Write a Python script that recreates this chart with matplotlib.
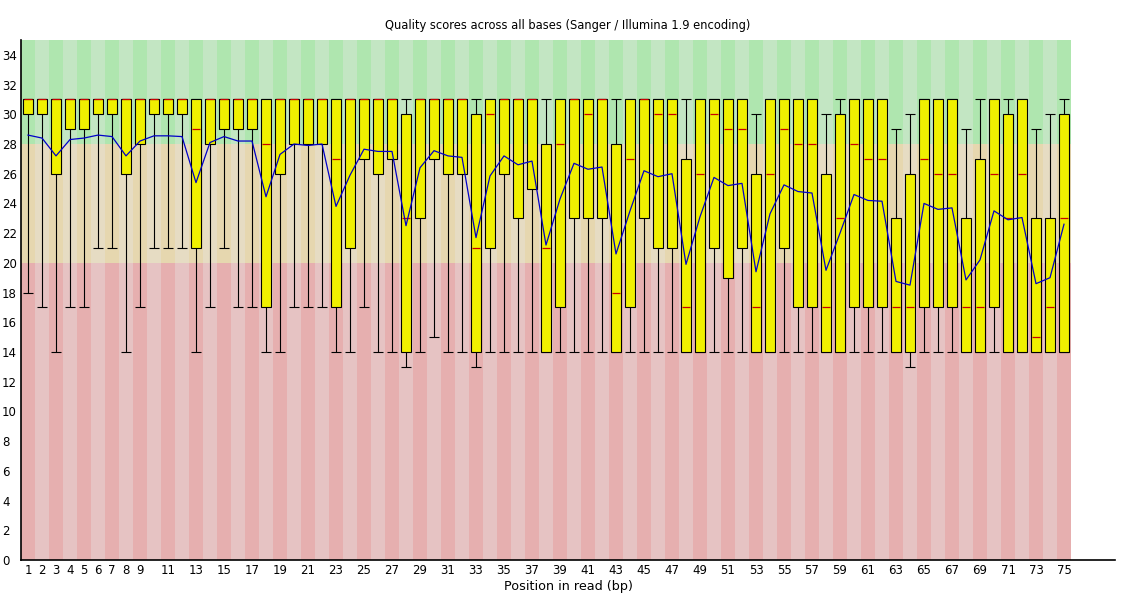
import matplotlib
matplotlib.use("Agg")
import matplotlib.pyplot as plt

# per-base quality summary
positions = list(range(1, 76))
upper = [31, 31, 31, 31, 31, 31, 31, 31, 31, 31, 31, 31, 31, 31, 31, 31, 31, 31, 31, 31,
         31, 31, 31, 31, 31, 31, 31, 30, 31, 31, 31, 31, 30, 31, 31, 31, 31, 28, 31, 31,
         31, 31, 28, 31, 31, 31, 31, 27, 31, 31, 31, 31, 26, 31, 31, 31, 31, 26, 30, 31,
         31, 31, 23, 26, 31, 31, 31, 23, 27, 31, 30, 31, 23, 23, 30]
lower = [30, 30, 26, 29, 29, 30, 30, 26, 28, 30, 30, 30, 21, 28, 29, 29, 29, 17, 26, 28,
         28, 28, 17, 21, 27, 26, 27, 14, 23, 27, 26, 26, 14, 21, 26, 23, 25, 14, 17, 23,
         23, 23, 14, 17, 23, 21, 21, 14, 14, 21, 19, 21, 14, 14, 21, 17, 17, 14, 14, 17,
         17, 17, 14, 14, 17, 17, 17, 14, 14, 17, 14, 14, 14, 14, 14]
median = [31, 31, 31, 31, 31, 31, 31, 31, 31, 31, 31, 31, 29, 31, 31, 31, 31, 28, 31, 31,
          31, 31, 27, 31, 31, 31, 31, 23, 31, 31, 31, 31, 21, 30, 31, 31, 31, 21, 28, 31,
          30, 31, 18, 27, 31, 30, 30, 17, 26, 30, 29, 29, 17, 26, 29, 28, 28, 17, 23, 28,
          27, 27, 17, 17, 27, 26, 26, 17, 17, 26, 23, 26, 15, 17, 23]
low_whisker = [18, 17, 14, 17, 17, 21, 21, 14, 17, 21, 21, 21, 14, 17, 21, 17, 17, 14, 14, 17,
               17, 17, 14, 14, 17, 14, 14, 13, 14, 15, 14, 14, 13, 14, 14, 14, 14, 14, 14, 14,
               14, 14, 14, 14, 14, 14, 14, 14, 14, 14, 14, 14, 14, 14, 14, 14, 14, 14, 14, 14,
               14, 14, 14, 13, 14, 14, 14, 14, 14, 14, 14, 14, 14, 14, 14]
high_whisker = [31, 31, 31, 31, 31, 31, 31, 31, 31, 31, 31, 31, 31, 31, 31, 31, 31, 31, 31, 31,
                31, 31, 31, 31, 31, 31, 31, 31, 31, 31, 31, 31, 31, 31, 31, 31, 31, 31, 31, 31,
                31, 31, 31, 31, 31, 31, 31, 31, 31, 31, 31, 31, 30, 31, 31, 31, 31, 30, 31, 31,
                31, 31, 29, 30, 31, 31, 31, 29, 31, 31, 31, 31, 29, 30, 31]
mean = [28.6, 28.4, 27.2, 28.3, 28.4, 28.6, 28.5, 27.2, 28.2, 28.55,
        28.55, 28.5, 25.4, 28.1, 28.5, 28.2, 28.2, 24.45, 27.3, 28.0,
        27.9, 28.0, 23.8, 25.9, 27.65, 27.5, 27.5, 22.5, 26.4, 27.55,
        27.2, 27.1, 21.7, 25.85, 27.2, 26.6, 26.85, 21.2, 24.3, 26.7,
        26.3, 26.45, 20.6, 23.5, 26.2, 25.8, 26.0, 19.9, 23.1, 25.75,
        25.2, 25.35, 19.4, 23.3, 25.25, 24.8, 24.7, 19.5, 22.0, 24.6,
        24.2, 24.15, 18.75, 18.5, 24.0, 23.6, 23.7, 18.85, 20.2, 23.5,
        22.9, 23.05, 18.6, 19.0, 22.6]
x_ticks = list(range(1, 10)) + list(range(11, 76, 2))
y_ticks = list(range(0, 35, 2))

# quality bands (good / reasonable / poor), dark and light stripe colours
bands = [(28, 35, "#afe6af", "#c3e6c3"),
         (20, 28, "#e6d7af", "#e6dcc3"),
         (0, 20, "#e6afaf", "#e6c3c3")]

fig = plt.figure(figsize=(11.25, 6), dpi=100)
ax = fig.add_axes([21 / 1125, 40 / 600, 1094 / 1125, 520 / 600])

for lo, hi, dark, light in bands:
    cols = [dark if p % 2 == 1 else light for p in positions]
    ax.bar(positions, hi - lo, bottom=lo, width=1.0, color=cols, linewidth=0, zorder=0)

bw = 0.72
ax.vlines(positions, low_whisker, high_whisker, color="black", linewidth=0.8, zorder=2)
ax.hlines(low_whisker, [p - bw / 2 for p in positions], [p + bw / 2 for p in positions],
          color="black", linewidth=0.8, zorder=2)
ax.hlines(high_whisker, [p - bw / 2 for p in positions], [p + bw / 2 for p in positions],
          color="black", linewidth=0.8, zorder=2)
ax.bar(positions, [u - l for u, l in zip(upper, lower)], bottom=lower, width=bw,
       color="#f0f000", edgecolor="black", linewidth=0.8, zorder=3)
ax.hlines(median, [p - bw / 2 + 0.04 for p in positions], [p + bw / 2 - 0.04 for p in positions],
          color="#c80000", linewidth=0.9, zorder=4)
ax.plot(positions, mean, color="#0000c8", linewidth=0.9, zorder=5)

ax.set_xlim(0.5, 0.5 + 1094 / 14)
ax.set_ylim(0, 35)
ax.set_xticks(x_ticks)
ax.set_yticks(y_ticks)
ax.set_xticklabels([str(t) for t in x_ticks], fontsize=8.5)
ax.set_yticklabels([str(t) for t in y_ticks], fontsize=8.5, ha="left")
ax.tick_params(axis="y", length=0, pad=13.7)
ax.tick_params(axis="x", length=0, pad=3)
for s in ["top", "right"]:
    ax.spines[s].set_visible(False)
for s in ["left", "bottom"]:
    ax.spines[s].set_linewidth(1.2)

ax.set_title("Quality scores across all bases (Sanger / Illumina 1.9 encoding)",
             fontsize=8.3, pad=8)
ax.set_xlabel("Position in read (bp)", fontsize=9.2, labelpad=2)

fig.savefig("out.png", dpi=100)
